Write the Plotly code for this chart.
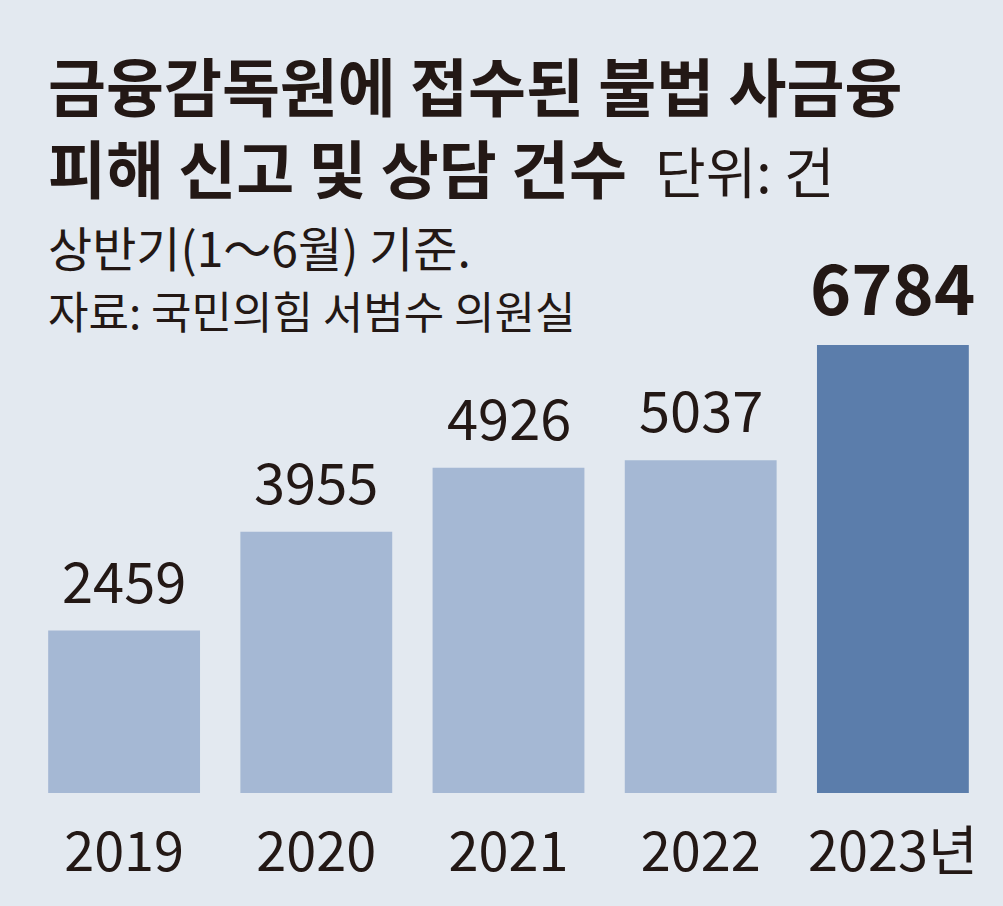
import plotly.graph_objects as go

years = ["2019", "2020", "2021", "2022", "2023"]
tick_labels = ["2019", "2020", "2021", "2022", "2023년"]
counts = [2459, 3955, 4926, 5037, 6784]
bar_colors = ["#a5b8d4", "#a5b8d4", "#a5b8d4", "#a5b8d4", "#5b7dab"]

title_line1 = "금융감독원에 접수된 불법 사금융"
title_line2 = "피해 신고 및 상담 건수"
unit_text = "단위: 건"
note_text = "상반기(1～6월) 기준."
source_text = "자료: 국민의힘 서범수 의원실"

W, H = 1003, 906
ML, MR, MT, MB = 28, 14, 100, 113
ph = H - MT - MB
pw = W - ML - MR
px_per_unit = 448 / 6784
ymax = ph / px_per_unit

TXT = "#231815"
KR_FONT = "Noto Sans CJK KR, sans-serif"

def py(p):
    return (H - MB - p) / ph

def px(p):
    return (p - ML) / pw

fig = go.Figure()
fig.add_trace(go.Bar(
    x=years, y=counts, marker=dict(color=bar_colors, line=dict(width=0)),
    width=0.79, hoverinfo="skip",
))

annotations = []
for i, v in enumerate(counts):
    last = i == len(counts) - 1
    annotations.append(dict(
        x=i, y=v, xref="x", yref="y", text=(f"<b>{v}</b>" if last else str(v)),
        showarrow=False, yanchor="bottom", yshift=8 if last else 10,
        font=dict(family=KR_FONT, size=70 if last else 56, color=TXT),
    ))

title_html = (f"<b>{title_line1}</b><br><b>{title_line2}</b>&nbsp; "
              f"<span style='font-size:55px;font-weight:normal'>{unit_text}</span>")

annotations += [
    dict(x=px(46), y=py(125), xref="paper", yref="paper", text=title_html,
         showarrow=False, xanchor="left", yanchor="middle", align="left",
         font=dict(family=KR_FONT, size=63, color=TXT)),
    dict(x=px(46), y=py(246), xref="paper", yref="paper", text=note_text,
         showarrow=False, xanchor="left", yanchor="middle",
         font=dict(family=KR_FONT, size=48, color=TXT)),
    dict(x=px(46), y=py(310), xref="paper", yref="paper", text=source_text,
         showarrow=False, xanchor="left", yanchor="middle",
         font=dict(family=KR_FONT, size=44, color=TXT)),
]

fig.update_layout(
    width=W, height=H,
    margin=dict(l=ML, r=MR, t=MT, b=MB, pad=0),
    paper_bgcolor="#e3e9f0", plot_bgcolor="#e3e9f0",
    showlegend=False, bargap=0.21,
    annotations=annotations,
    xaxis=dict(
        type="category", range=[-0.5, 4.5], tickmode="array",
        tickvals=years, ticktext=tick_labels,
        showgrid=False, zeroline=False, showline=False,
        ticks="outside", ticklen=12, tickcolor="rgba(0,0,0,0)",
        tickfont=dict(family=KR_FONT, size=54, color=TXT),
        fixedrange=True,
    ),
    yaxis=dict(
        range=[0, ymax], visible=False, showgrid=False, zeroline=False,
        fixedrange=True,
    ),
)

fig.write_html("out.html", config={"displayModeBar": False},
               post_script="document.body.style.margin='0';document.body.style.padding='0';")
